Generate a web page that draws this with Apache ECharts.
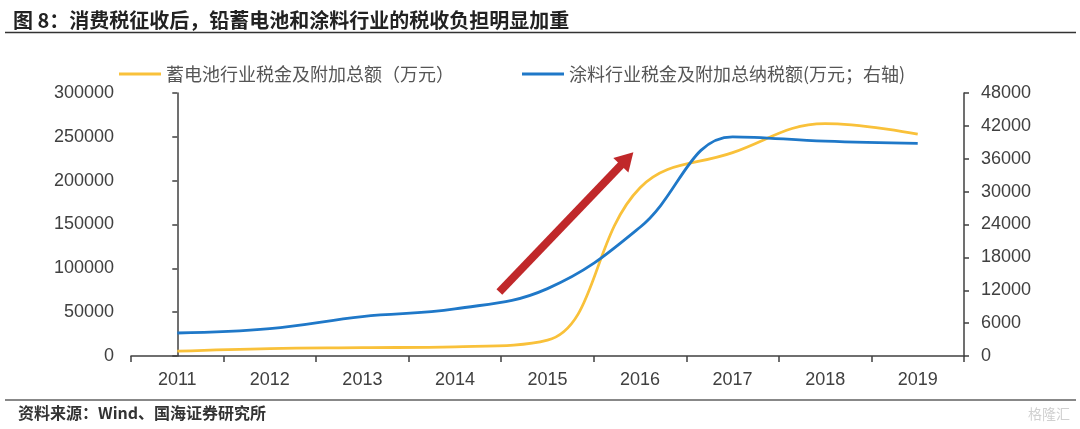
<!DOCTYPE html>
<html>
<head>
<meta charset="utf-8">
<script src="https://cdn.jsdelivr.net/npm/echarts@6/dist/echarts.min.js"></script>
<style>
html,body{margin:0;padding:0;background:#fff;}
#main{width:1080px;height:429px;}
</style>
</head>
<body>
<div id="main"></div>
<script>
var categories = ['2011','2012','2013','2014','2015','2016','2017','2018','2019'];
var batteryTax = [5500, 8500, 9500, 10500, 18000, 192000, 232000, 265000, 253000];
var coatingTax = [4200, 5000, 7200, 8600, 12300, 23500, 40000, 39200, 38800];
var leftTicks = {min: 0, max: 300000, interval: 50000};
var rightTicks = {min: 0, max: 48000, interval: 6000};
var seriesNames = ['蓄电池行业税金及附加总额（万元）', '涂料行业税金及附加总纳税额(万元；右轴)'];
// annotation arrow in data space: [categoryPosition, leftAxisValue]
var arrowFrom = [3.48, 73000];
var arrowTo = [4.86, 225000];

var chart = echarts.init(document.getElementById('main'));
var axisColor = '#404040';
var labelFont = {color: '#404040', fontSize: 18, fontFamily: '"Liberation Sans", Arial, sans-serif'};
var plain = function (v) { return String(v); };
var option = {
  backgroundColor: '#fff',
  animation: false,
  title: {
    text: '图 8：消费税征收后，铅蓄电池和涂料行业的税收负担明显加重',
    left: 8, top: 5,
    textStyle: {fontSize: 20, fontWeight: 'bold', color: '#222', fontFamily: '"Noto Sans CJK SC", sans-serif'}
  },
  graphic: [
    {type: 'line', shape: {x1: 5, y1: 32.5, x2: 1076, y2: 32.5}, style: {stroke: '#333', lineWidth: 1.5}},
    {type: 'line', shape: {x1: 5, y1: 400, x2: 1076, y2: 400}, style: {stroke: '#888', lineWidth: 2}},
    {type: 'text', left: 18, top: 405, style: {text: '资料来源：Wind、国海证券研究所', fontSize: 16, fontWeight: 'bold', fill: '#333', fontFamily: '"Noto Sans CJK SC", serif'}},
    {type: 'text', right: 10, top: 407, style: {text: '格隆汇', fontSize: 14, fill: '#d0d0d0', fontFamily: '"Noto Sans CJK SC", sans-serif'}}
  ],
  legend: [
    {
      data: [seriesNames[0]], left: 114, top: 60, icon: 'rect',
      itemWidth: 42, itemHeight: 3, itemGap: 6,
      textStyle: {fontSize: 18, color: '#555', fontFamily: '"Noto Sans CJK SC", sans-serif'}
    },
    {
      data: [seriesNames[1]], left: 517, top: 60, icon: 'rect',
      itemWidth: 42, itemHeight: 3, itemGap: 6,
      textStyle: {fontSize: 18, color: '#555', fontFamily: '"Noto Sans CJK SC", sans-serif'}
    }
  ],
  grid: {left: 131, right: 116, top: 93, bottom: 73, containLabel: false},
  xAxis: [
    {
      type: 'category', data: categories, boundaryGap: true,
      axisLine: {lineStyle: {color: axisColor, width: 1.5}},
      axisTick: {show: true, length: 6, lineStyle: {color: axisColor, width: 1.5}},
      axisLabel: Object.assign({margin: 15}, labelFont),
      splitLine: {show: false}
    },
    {type: 'value', min: -0.5, max: 8.5, show: false}
  ],
  yAxis: [
    {
      type: 'value', min: leftTicks.min, max: leftTicks.max, interval: leftTicks.interval,
      axisLine: {show: true, lineStyle: {color: axisColor, width: 1.5}},
      axisTick: {show: true, length: 5, lineStyle: {color: axisColor, width: 1.5}},
      axisLabel: Object.assign({margin: 17, formatter: plain}, labelFont),
      splitLine: {show: false}
    },
    {
      type: 'value', min: rightTicks.min, max: rightTicks.max, interval: rightTicks.interval,
      position: 'right',
      axisLine: {show: true, lineStyle: {color: axisColor, width: 1.5}},
      axisTick: {show: true, length: 5, lineStyle: {color: axisColor, width: 1.5}},
      axisLabel: Object.assign({margin: 17, formatter: plain}, labelFont),
      splitLine: {show: false}
    }
  ],
  series: [
    {
      name: seriesNames[0], type: 'line', data: batteryTax,
      xAxisIndex: 0, yAxisIndex: 0,
      smooth: 0.4, symbol: 'none',
      lineStyle: {color: '#F9C13A', width: 2.8},
      itemStyle: {color: '#F9C13A'}
    },
    {
      name: seriesNames[1], type: 'line', data: coatingTax,
      xAxisIndex: 0, yAxisIndex: 1,
      smooth: 0.4, symbol: 'none',
      lineStyle: {color: '#1F78C8', width: 2.8},
      itemStyle: {color: '#1F78C8'}
    },
    {
      name: 'arrow', type: 'line',
      xAxisIndex: 1, yAxisIndex: 0, silent: true,
      showSymbol: true, showAllSymbol: true,
      lineStyle: {color: '#C0282A', width: 8, cap: 'butt'},
      itemStyle: {color: '#C0282A'},
      data: [
        {value: arrowFrom, symbol: 'none'},
        {value: arrowTo, symbol: 'triangle', symbolSize: [21, 18], symbolRotate: -44}
      ],
      z: 5
    }
  ]
};
chart.setOption(option);
</script>
</body>
</html>
